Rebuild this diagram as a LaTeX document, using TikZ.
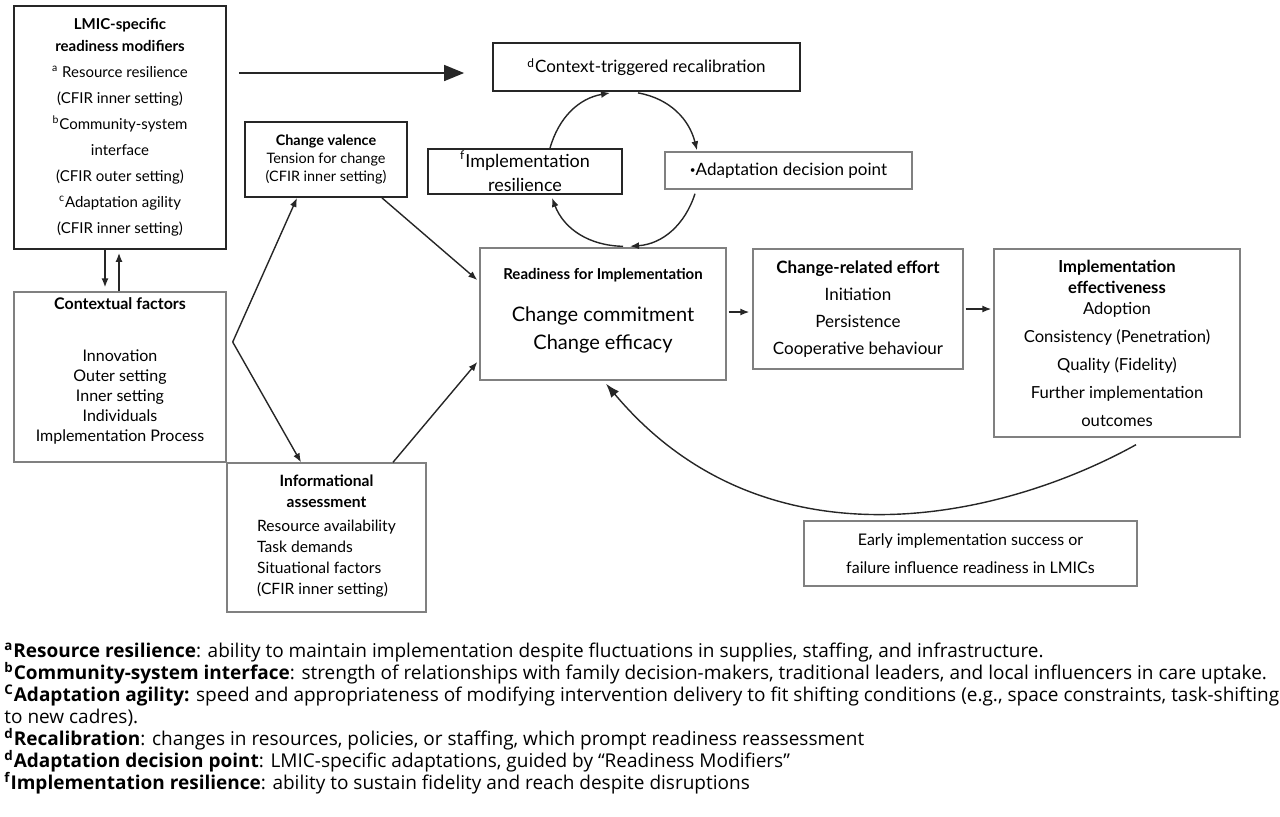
\documentclass[tikz,border=0pt]{standalone}
\usepackage{fontspec}
\setmainfont{Lato}
\newfontfamily\notefont{Open Sans}
\usetikzlibrary{arrows.meta}
\newcommand{\nsup}[1]{\smash{\textsuperscript{#1}}}
\tikzset{
    darknode/.style={
        rectangle,
        draw=black!85, % 深色边框
        line width=0.9pt,
        align=center,
        inner sep=0
    },
    greynode/.style={
        rectangle,
        draw=black!50, % 灰色边框
        line width=0.7pt,
        align=center,
        inner sep=0
    },
    arrowline/.style={
        -{Latex[length=4.5pt,width=3.5pt]},
        line width=0.7pt,
        draw=black!85
    },
    bigarrow/.style={
        -{Triangle[length=10pt,width=8pt]},
        line width=0.8pt,
        draw=black!85
    }
}

\begin{document}
\begin{tikzpicture}[x=0.5pt,y=0.5pt]
    \useasboundingbox (0,0) rectangle (1280,-816);
    % 左侧方框
    \node[darknode, minimum width=106pt, minimum height=121.5pt,
          font=\fontsize{7.5}{13}\selectfont] (lmic) at (120,-127.5)
        {\textbf{LMIC-specific}\\[-2pt]
         \textbf{readiness modifiers}\\
         \textsuperscript{a} Resource resilience\\
         (CFIR inner setting)\\
         \textsuperscript{b}Community-system\\
         interface\\
         (CFIR outer setting)\\
         \textsuperscript{c}Adaptation agility\\
         (CFIR inner setting)};
    \node[greynode, minimum width=106pt, minimum height=85pt,
          font=\fontsize{8}{10}\selectfont] (ctx) at (120,-377)
        {\textbf{Contextual factors}\\[16pt]
         Innovation\\
         Outer setting\\
         Inner setting\\
         Individuals\\
         Implementation Process\\[-2.5pt]~};
    \node[darknode, minimum width=81pt, minimum height=37.5pt,
          font=\fontsize{7.2}{9}\selectfont] (valence) at (326,-159.5)
        {\textbf{Change valence}\\
         Tension for change\\
         (CFIR inner setting)};
    \node[greynode, minimum width=99.5pt, minimum height=74.5pt,
          font=\fontsize{7.8}{10.5}\selectfont] (info) at (326.5,-537.5)
        {\textbf{Informational}\\
         \textbf{assessment}\\[3.5pt]
         \begin{tabular}{@{}l@{}}
         Resource availability\\
         Task demands\\
         Situational factors\\
         (CFIR inner setting)
         \end{tabular}};
    % 循环
    \node[darknode, minimum width=153.5pt, minimum height=24pt,
          font=\fontsize{8.5}{10}\selectfont] (recal) at (646.5,-67)
        {\textsuperscript{d}Context-triggered recalibration};
    \node[darknode, minimum width=97pt, minimum height=22.5pt,
          font=\fontsize{9}{12}\selectfont] (resil) at (525,-171.5)
        {\textsuperscript{f}Implementation\\
         resilience};
    \node[greynode, minimum width=123.5pt, minimum height=18.5pt,
          font=\fontsize{8.5}{10}\selectfont] (adapt) at (788.5,-170.5)
        {\raisebox{1pt}{\fontsize{5}{5}\selectfont•}Adaptation decision point};
    % 中间一行
    \node[greynode, minimum width=123pt, minimum height=66pt,
          font=\fontsize{10}{14}\selectfont] (ready) at (603,-314)
        {{\fontsize{7.5}{9}\selectfont\bfseries Readiness for Implementation}\\[7pt]
         Change commitment\\
         Change efficacy\\[-9pt]~};
    \node[greynode, minimum width=105pt, minimum height=60pt,
          font=\fontsize{8.5}{13.5}\selectfont] (effort) at (858,-309)
        {\textbf{Change-related effort}\\
         Initiation\\
         Persistence\\
         Cooperative behaviour};
    \node[greynode, minimum width=123pt, minimum height=94pt,
          font=\fontsize{8.3}{14}\selectfont] (effect) at (1117,-343)
        {\textbf{Implementation}\\[-3.5pt]
         \textbf{effectiveness}\\[-3.5pt]
         Adoption\\
         Consistency (Penetration)\\
         Quality (Fidelity)\\
         Further implementation\\
         outcomes};
    \node[greynode, minimum width=166.5pt, minimum height=32.5pt,
          font=\fontsize{8}{14}\selectfont] (early) at (970.5,-553.5)
        {Early implementation success or\\
         failure influence readiness in LMICs};
    % 注释
    \node[anchor=north west, align=left, inner sep=0,
          font=\notefont\fontsize{9.5}{11}\selectfont] (notes) at (4,-643)
        {\textbf{\nsup{a}Resource resilience}: ability to maintain implementation despite fluctuations in supplies, staffing, and infrastructure.\\
         \textbf{\nsup{b}Community-system interface}: strength of relationships with family decision-makers, traditional leaders, and local influencers in care uptake.\\
         \textbf{\nsup{C}Adaptation agility:} speed and appropriateness of modifying intervention delivery to fit shifting conditions (e.g., space constraints, task-shifting\\
         to new cadres).\\
         \textbf{\nsup{d}Recalibration}: changes in resources, policies, or staffing, which prompt readiness reassessment\\
         \textbf{\nsup{d}Adaptation decision point}: LMIC-specific adaptations, guided by “Readiness Modifiers”\\
         \textbf{\nsup{f}Implementation resilience}: ability to sustain fidelity and reach despite disruptions};

    % 箭头
    \draw[bigarrow] ([xshift=6pt,yshift=-3pt]lmic.east |- recal.west) -- ([xshift=-14pt,yshift=-3pt]recal.west);
    \draw[arrowline] ([xshift=-7.5pt]lmic.south) -- ([xshift=-7.5pt,yshift=2pt]ctx.north);
    \draw[arrowline] ([xshift=-0.5pt]ctx.north) -- ([xshift=-0.5pt,yshift=-1.5pt]lmic.south);
    \coordinate (vtx) at ([xshift=3pt,yshift=17.5pt]ctx.east);
    \draw[arrowline] (vtx) -- ([xshift=-14.5pt]valence.south);
    \draw[arrowline] (vtx) -- ([xshift=-12.75pt]info.north);
    \draw[arrowline] ([xshift=28pt]valence.south) -- ([xshift=-1pt,yshift=17pt]ready.west);
    \draw[arrowline] ([xshift=33.25pt]info.north) -- ([xshift=-1pt,yshift=-24pt]ready.west);
    \draw[arrowline, shorten <=1pt, shorten >=1.5pt] ([yshift=1pt]ready.east) -- ([yshift=1pt]ready.east -| effort.west);
    \draw[arrowline, shorten <=1pt, shorten >=1pt] (effort.east) -- (effort.east -| effect.west);
    \draw[arrowline, -{Latex[length=7pt,width=5pt]}] ([xshift=9.5pt,yshift=-3.5pt]effect.south)
        .. controls +(209:150) and +(-50:250) .. ([xshift=1.5pt,yshift=-1.5pt]ready.south);
    % 循环箭头
    \draw[arrowline] ([xshift=12.5pt]resil.north) to[out=74, in=190] ([xshift=-18.25pt,yshift=-0.5pt]recal.south);
    \draw[arrowline] ([xshift=-4.25pt,yshift=-0.5pt]recal.south) to[out=-10, in=104] ([xshift=-45.75pt,yshift=0.5pt]adapt.north);
    \draw[arrowline] ([xshift=-46.75pt,yshift=-2pt]adapt.south) to[out=-108, in=4] ([xshift=13.5pt,yshift=0.5pt]ready.north);
    \draw[arrowline] ([xshift=10pt,yshift=0.5pt]ready.north) to[out=179, in=-69] ([xshift=13.5pt,yshift=-1.5pt]resil.south);
\end{tikzpicture}
\end{document}
